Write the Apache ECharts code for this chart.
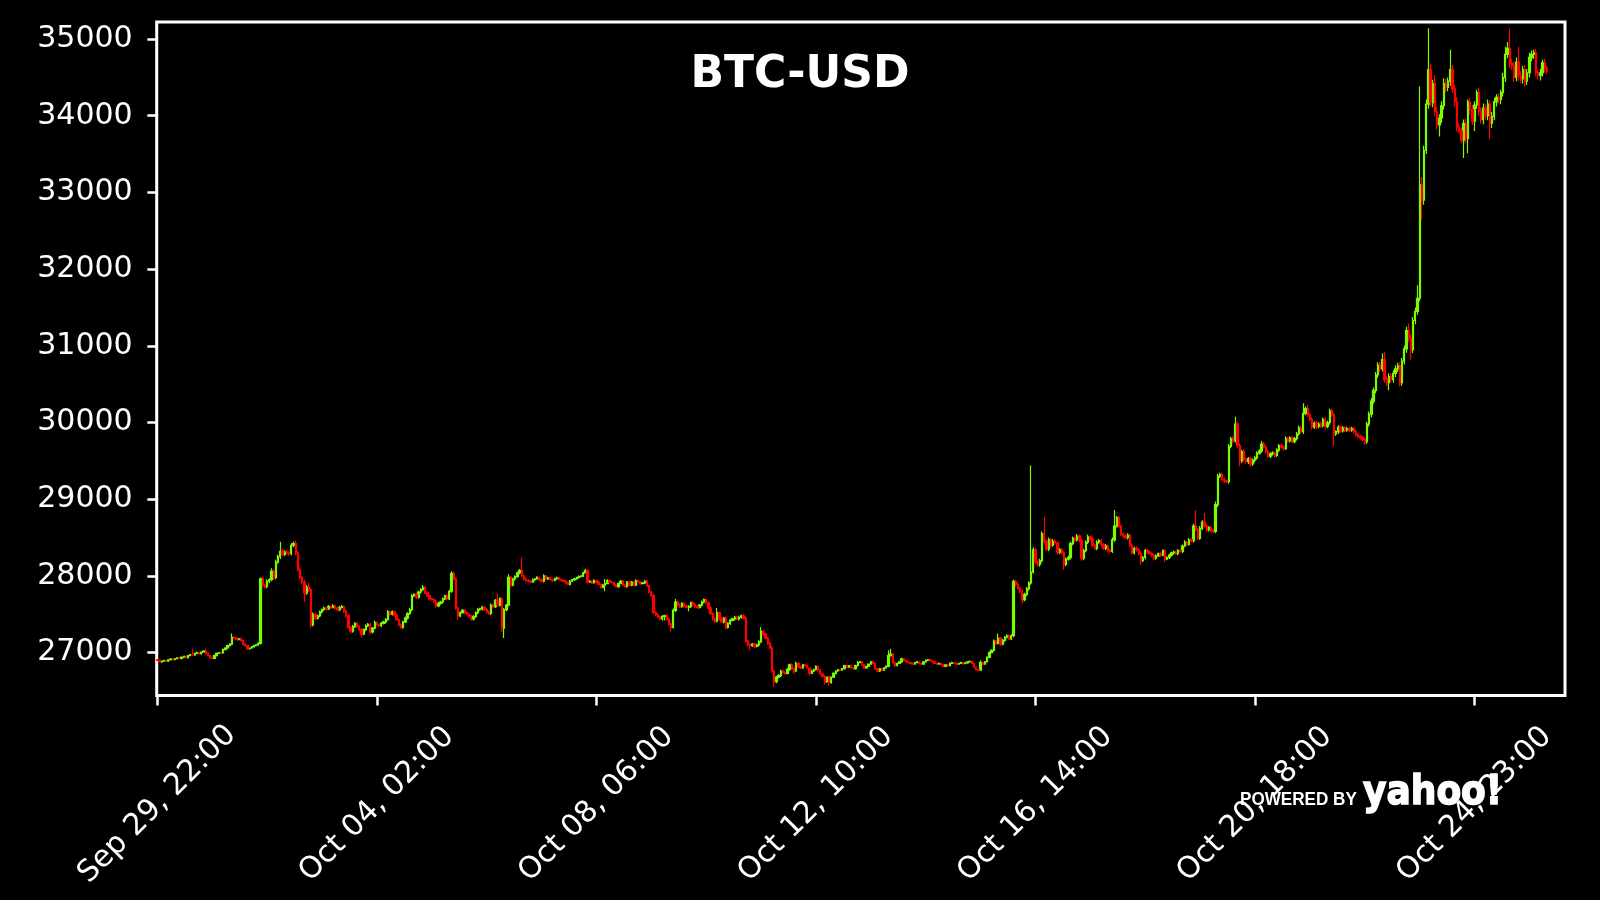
<!DOCTYPE html>
<html><head><meta charset="utf-8">
<script src="https://cdn.jsdelivr.net/npm/echarts@6/dist/echarts.min.js"></script>
<style>html,body{margin:0;padding:0;background:#000;}#c{width:1600px;height:900px;}</style>
</head><body><div id="c"></div>
<script>
const chartTitle = 'BTC-USD';
const tickIndex = [0, 100, 200, 300, 400, 500, 600];
const tickLabels = ['Sep 29, 22:00', 'Oct 04, 02:00', 'Oct 08, 06:00', 'Oct 12, 10:00', 'Oct 16, 14:00', 'Oct 20, 18:00', 'Oct 24, 23:00'];
const yTicks = [27000, 28000, 29000, 30000, 31000, 32000, 33000, 34000, 35000];
const open0 = 26905;
// hourly closes (open of each candle = previous close)
const close = [
26900,
26880,26890,26895,26890,26905,26915,26910,26920,26930,26925,
26940,26950,26935,26960,26975,26970,26990,27000,26985,27005,
27020,26990,26960,26935,26925,26960,26990,27000,26995,27040,
27060,27090,27110,27200,27190,27170,27180,27160,27110,27090,
27050,27060,27075,27090,27100,27120,27960,27880,27860,27930,
27950,28060,27980,28180,28250,28320,28280,28310,28300,28290,
28400,28420,28300,28080,27980,27920,27780,27850,27820,27360,
27500,27450,27480,27530,27560,27580,27570,27600,27590,27610,
27580,27560,27590,27600,27540,27480,27330,27280,27340,27380,
27340,27300,27240,27300,27350,27370,27270,27320,27390,27360,
27350,27380,27400,27430,27530,27500,27530,27490,27430,27360,
27330,27400,27450,27510,27560,27740,27760,27720,27790,27820,
27850,27780,27740,27700,27690,27670,27610,27640,27660,27700,
27740,27700,27800,28030,27960,27580,27480,27520,27550,27520,
27500,27480,27440,27470,27520,27560,27570,27590,27560,27530,
27510,27620,27600,27680,27620,27700,27320,27560,27620,27980,
27880,27960,27990,28040,28070,28000,27960,27940,27930,27920,
27950,27960,27980,27950,27930,28000,27960,27975,27950,27940,
27965,27975,27950,27940,27930,27910,27890,27930,27950,27960,
27980,27990,28000,28040,28070,27920,27930,27910,27940,27920,
27890,27850,27880,27900,27940,27920,27910,27880,27860,27900,
27930,27880,27860,27920,27880,27920,27880,27940,27920,27900,
27910,27930,27870,27790,27740,27520,27490,27470,27440,27470,
27480,27440,27370,27330,27550,27660,27620,27600,27640,27610,
27590,27600,27650,27630,27600,27590,27620,27660,27690,27650,
27580,27510,27440,27410,27520,27440,27400,27450,27330,27380,
27420,27440,27460,27440,27460,27480,27450,27150,27100,27090,
27110,27080,27100,27140,27280,27240,27190,27120,27060,26760,
26620,26680,26700,26760,26740,26730,26780,26840,26790,26760,
26860,26820,26800,26840,26830,26800,26730,26760,26780,26820,
26770,26720,26690,26620,26680,26610,26680,26730,26760,26775,
26770,26790,26830,26810,26830,26800,26790,26830,26870,26880,
26840,26800,26820,26850,26880,26860,26790,26760,26790,26770,
26800,26820,26960,26980,26870,26830,26860,26880,26920,26900,
26880,26870,26860,26850,26870,26880,26860,26850,26880,26900,
26910,26895,26880,26860,26850,26860,26840,26820,26840,26830,
26860,26870,26860,26850,26860,26870,26855,26865,26880,26885,
26860,26810,26780,26770,26870,26850,26880,26940,27000,27030,
27150,27120,27190,27110,27160,27200,27220,27180,27220,27930,
27890,27840,27800,27690,27760,27830,27910,28050,28340,28180,
28150,28200,28550,28450,28350,28470,28400,28450,28430,28310,
28340,28300,28150,28220,28240,28420,28490,28470,28520,28460,
28230,28330,28440,28510,28480,28400,28360,28440,28460,28410,
28360,28390,28330,28320,28470,28650,28760,28650,28540,28520,
28500,28530,28400,28300,28360,28340,28290,28200,28240,28330,
28310,28290,28270,28230,28260,28290,28270,28330,28220,28240,
28270,28300,28310,28290,28330,28320,28390,28440,28410,28470,
28460,28650,28600,28490,28620,28700,28650,28600,28630,28590,
28580,28930,29300,29320,29260,29240,29230,29690,29790,29760,
29980,29700,29500,29620,29520,29490,29530,29460,29510,29540,
29600,29630,29720,29680,29620,29560,29590,29600,29570,29640,
29700,29680,29660,29790,29760,29800,29750,29790,29850,29930,
29880,30120,30180,30100,30040,29940,29990,29950,29980,29960,
30040,29950,30000,30150,30100,29850,29880,29940,29890,29930,
29900,29920,29900,29920,29880,29840,29820,29800,29780,29750,
29980,30110,30280,30420,30620,30750,30700,30820,30560,30520,
30600,30560,30640,30700,30740,30520,30800,30960,31200,31100,
30950,31330,31450,31620,33100,32900,33550,34150,34600,34170,
34420,34050,33880,33970,34130,34420,34370,34450,34600,34350,
34180,33850,33800,33680,33900,33700,34180,34080,33930,34140,
34300,34060,33950,34100,34000,34150,33900,33990,34180,34240,
34210,34300,34500,34800,34880,34680,34650,34500,34700,34520,
34480,34600,34450,34560,34760,34800,34820,34560,34530,34560,
34690,34620,34580
];
// upper wick length above the body
const wickUp = [
10,
10,8,12,10,6,10,14,8,10,12,
8,10,12,10,8,80,10,12,8,10,
12,35,10,8,10,12,10,8,10,12,
10,12,14,50,15,12,10,14,10,12,
10,8,10,12,10,14,20,30,20,25,
20,40,25,30,25,125,30,25,30,20,
25,30,40,25,30,20,25,30,60,20,
25,20,15,20,15,20,15,20,15,20,
15,20,15,20,15,20,25,15,20,15,
20,15,20,15,20,15,20,15,30,15,
15,20,15,20,25,15,20,15,20,15,
20,15,20,15,25,20,15,20,15,20,
30,15,20,15,15,20,15,20,15,20,
15,20,20,30,25,20,20,15,20,15,
15,20,15,20,15,20,15,20,15,20,
15,20,15,20,90,20,25,20,15,40,
20,15,20,15,20,170,15,20,15,10,
15,10,15,10,15,20,10,15,10,15,
10,15,10,15,10,15,10,15,10,15,
10,15,10,15,20,10,15,10,15,10,
15,10,15,60,15,10,15,10,15,10,
15,20,10,15,10,15,10,15,10,15,
10,15,20,15,20,25,15,20,15,20,
15,20,15,20,25,40,15,20,15,20,
15,20,15,20,15,20,15,20,15,20,
15,20,15,20,60,15,20,15,20,15,
20,15,20,15,20,15,20,25,15,20,
15,20,15,20,50,15,20,15,20,25,
20,15,20,15,20,15,20,15,20,15,
20,15,10,15,10,15,10,15,10,15,
10,15,10,15,10,15,10,15,10,10,
8,10,12,10,8,10,12,10,20,10,
10,12,10,8,10,12,10,8,10,12,
10,12,70,70,15,10,8,10,12,10,
8,10,8,10,8,10,8,10,8,10,
8,10,8,10,8,10,8,10,8,10,
10,12,8,10,8,10,8,10,8,10,
10,8,10,8,30,10,12,10,15,15,
20,15,60,15,20,15,20,15,20,20,
20,25,20,25,20,25,20,1390,30,25,
20,25,30,220,25,30,25,30,25,20,
25,20,25,20,25,30,25,20,25,20,
25,20,25,30,20,25,20,25,20,25,
20,25,20,25,30,210,20,25,20,25,
20,25,20,25,20,25,20,25,20,25,
20,15,20,15,20,15,20,15,20,15,
20,15,20,15,20,15,20,25,20,25,
20,30,210,25,30,25,120,25,20,25,
20,40,30,25,30,25,20,30,25,30,
95,30,30,25,30,25,20,25,20,25,
25,20,40,25,20,25,20,25,20,25,
20,25,20,30,25,20,25,20,25,30,
25,130,30,50,25,30,25,30,25,30,
25,30,25,30,30,25,20,25,20,25,
20,25,20,25,20,25,20,25,20,25,
30,35,40,35,40,35,40,80,100,40,
40,45,40,45,40,45,40,45,50,90,
50,45,50,170,1280,100,60,60,540,80,
50,110,60,50,60,70,60,50,260,60,
50,60,50,40,50,60,30,50,60,50,
40,60,50,60,50,60,50,60,50,40,
50,40,60,100,80,260,60,50,60,200,
60,50,60,50,60,50,40,50,40,50,
40,50,30
];
// lower wick length below the body
const wickDn = [
10,
10,12,8,10,12,8,10,12,8,10,
12,8,10,12,8,10,12,8,10,12,
8,10,12,10,8,12,10,8,12,10,
8,10,12,10,12,10,8,12,15,10,
12,10,8,10,12,10,15,20,25,20,
25,20,30,25,20,30,25,20,25,30,
20,25,30,25,20,30,120,25,30,40,
20,25,20,15,20,15,20,15,20,15,
20,15,20,15,20,25,20,30,20,15,
20,15,50,15,20,15,30,20,15,20,
15,20,15,20,15,20,15,20,15,20,
15,20,15,20,15,20,15,20,15,20,
15,20,15,20,15,20,25,20,15,20,
15,20,15,20,15,25,50,20,15,20,
15,20,25,20,15,20,15,20,15,20,
15,20,15,20,15,20,50,130,20,15,
20,15,20,15,20,15,20,15,10,15,
10,15,10,15,10,15,10,15,10,15,
10,15,10,15,10,15,10,15,10,15,
10,15,10,15,10,15,10,15,10,15,
10,15,10,80,10,15,10,15,10,15,
10,15,10,15,10,15,10,15,10,15,
10,15,10,15,10,20,15,20,15,20,
50,20,15,50,15,20,15,20,15,20,
15,50,15,20,15,20,15,20,15,20,
15,20,25,20,15,20,15,20,25,15,
20,15,20,15,20,15,20,25,20,60,
15,20,15,20,15,20,15,20,15,20,
70,20,15,20,15,20,15,20,15,40,
15,20,15,10,15,10,30,10,15,10,
15,10,15,40,15,50,15,10,15,10,
10,8,10,12,10,8,10,12,10,8,
10,12,10,8,10,12,15,10,12,10,
8,10,12,10,15,10,8,10,12,10,
8,10,8,10,8,10,8,10,8,10,
8,10,8,10,8,10,8,10,8,10,
10,8,10,8,10,8,10,8,10,8,
10,8,10,12,10,10,8,10,12,10,
15,20,15,20,15,20,15,20,15,20,
25,20,25,50,20,25,20,25,20,30,
25,30,25,30,25,30,25,20,25,30,
25,20,70,25,20,25,20,25,20,25,
30,25,20,25,20,25,20,25,20,25,
20,25,20,25,20,25,20,25,20,25,
20,25,20,25,20,25,20,50,20,25,
20,15,20,30,20,15,20,15,40,15,
20,15,20,15,20,15,20,15,20,15,
20,25,20,25,20,25,20,25,20,25,
20,25,30,25,30,25,20,30,25,30,
25,30,70,25,30,25,30,40,25,30,
25,20,25,20,25,20,25,20,25,20,
25,20,25,20,25,20,25,20,25,20,
25,30,25,30,25,30,25,30,25,30,
25,30,25,30,25,160,25,30,25,20,
25,20,25,20,25,20,25,20,25,40,
30,35,40,35,40,35,40,35,40,45,
100,45,40,45,40,50,40,45,50,45,
140,45,50,45,40,250,60,50,60,50,
60,50,60,150,60,50,60,50,60,50,
60,60,30,40,230,60,190,60,50,130,
50,60,50,60,50,60,200,60,50,60,
50,60,50,60,50,60,50,60,50,60,
50,60,70,50,60,50,60,50,60,70,
50,60,40
];

const UP = '#7CFC00', DOWN = '#FF0000';
const upData = [], downData = [];
close.forEach((c, i) => {
  const o = i === 0 ? open0 : close[i - 1];
  const hi = Math.max(o, c) + wickUp[i];
  const lo = Math.min(o, c) - wickDn[i];
  (c >= o ? upData : downData).push([i, o, c, lo, hi]);
});

const chart = echarts.init(document.getElementById('c'), null, {renderer: 'canvas', width: 1600, height: 900});
const FONT = 'DejaVu Sans';
function candleSeries(data, col) {
  return {
    type: 'candlestick', large: false, barWidth: 1.8,
    dimensions: ['idx', 'open', 'close', 'lowest', 'highest'],
    encode: {x: 0, y: [1, 2, 3, 4]},
    data: data,
    itemStyle: {color: col, color0: col, borderColor: col, borderColor0: col, borderColorDoji: col, borderWidth: 1.2},
    z: 2
  };
}
chart.setOption({
  animation: false,
  backgroundColor: '#000',
  grid: {left: 156.7, right: 35, top: 22, bottom: 204.6, show: true, borderColor: '#fff', borderWidth: 3, backgroundColor: 'transparent'},
  xAxis: {
    type: 'value', min: -0.3, max: 641.2,
    splitLine: {show: false},
    axisLine: {show: false},
    axisTick: {show: true, inside: false, length: 10, lineStyle: {color: '#fff', width: 2.5}, customValues: tickIndex},
    axisLabel: {
      customValues: tickIndex,
      formatter: v => { const k = tickIndex.indexOf(Math.round(v)); return k >= 0 ? tickLabels[k] : ''; },
      rotate: 45, align: 'center', verticalAlign: 'middle', margin: 109,
      color: '#fff', fontSize: 30, fontFamily: FONT
    }
  },
  yAxis: {
    type: 'value', min: 26442, max: 35222, scale: true,
    splitLine: {show: false},
    axisLine: {show: false},
    axisTick: {show: true, inside: false, length: 10, lineStyle: {color: '#fff', width: 2.5}, customValues: yTicks},
    axisLabel: {customValues: yTicks, formatter: v => String(v), margin: 24, color: '#fff', fontSize: 30, fontFamily: FONT}
  },
  series: [candleSeries(upData, UP), candleSeries(downData, DOWN)],
  graphic: [
    {type: 'text', z: 100, style: {text: chartTitle, x: 800, y: 76, fill: '#fff', font: 'bold 44px "DejaVu Sans"', align: 'center', verticalAlign: 'middle', textAlign: 'center', textVerticalAlign: 'middle'}},
    {type: 'text', z: 100, scaleX: 0.95, x: 1240, y: 800, style: {text: 'POWERED BY', x: 0, y: 0, fill: '#fff', font: 'bold 18px "Liberation Sans"', align: 'left', verticalAlign: 'middle', textAlign: 'left', textVerticalAlign: 'middle'}},
    {type: 'text', z: 100, scaleX: 0.9, x: 1363, y: 794, style: {text: 'yahoo!', x: 0, y: 0, fill: '#fff', stroke: '#fff', lineWidth: 1.5, font: 'bold 40px "DejaVu Sans"', align: 'left', verticalAlign: 'middle', textAlign: 'left', textVerticalAlign: 'middle'}}
  ]
});
</script>
</body></html>
